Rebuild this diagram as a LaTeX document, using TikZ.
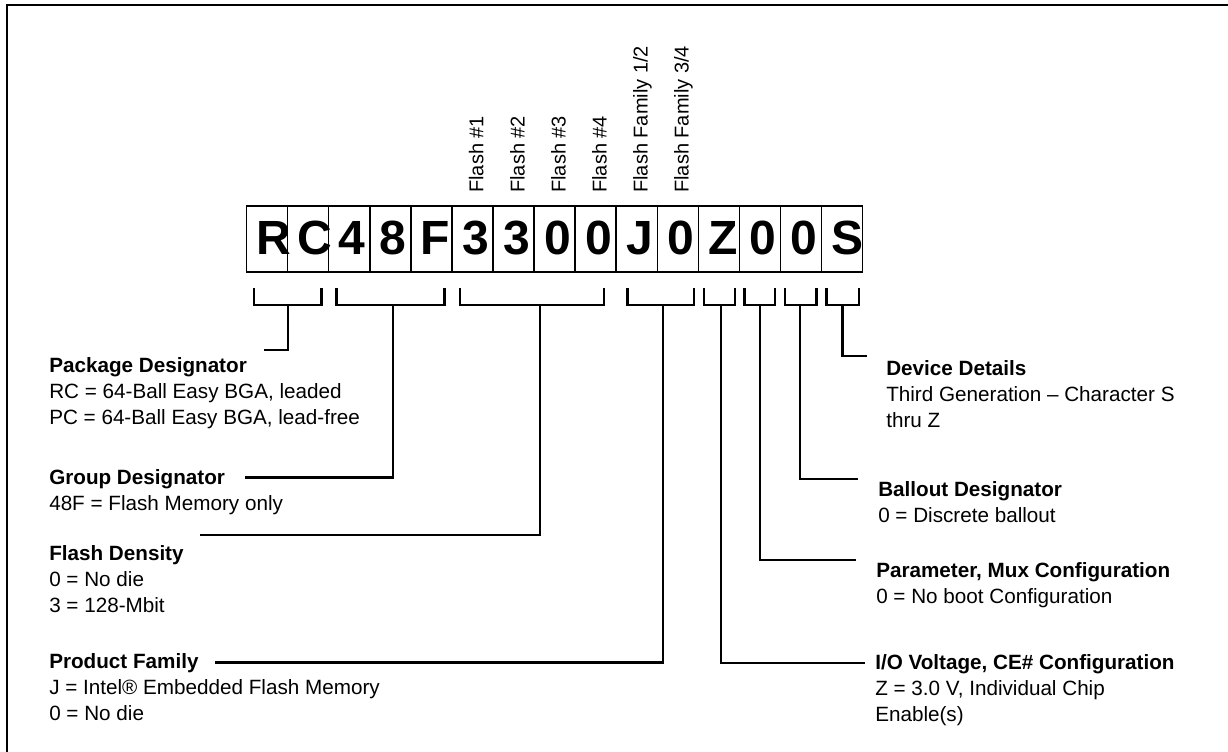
\documentclass[tikz,border=0pt]{standalone}
\usepackage{fontspec}
\setmainfont{Liberation Sans}
\begin{document}
\begin{tikzpicture}[x=0.75pt,y=-0.75pt,
  cell/.style={draw, line width=1pt, minimum width=30.79pt, minimum height=49.5pt, inner sep=0pt, outer sep=0pt},
  big/.style={anchor=base west, inner sep=0pt, font=\fontsize{36}{36}\selectfont\bfseries},
  vlab/.style={rotate=90, anchor=base west, inner sep=0pt, font=\fontsize{15}{18}\selectfont},
  head/.style={anchor=base west, inner sep=0pt, font=\fontsize{15.5}{18}\selectfont\bfseries},
  body/.style={anchor=base west, inner sep=0pt, font=\fontsize{15.5}{18}\selectfont},
  conn/.style={line width=2pt, line join=miter},
  frame/.style={line width=1.5pt}]
\useasboundingbox (0,0) rectangle (1228,751);
\draw[frame] (7,770) -- (7,5) -- (1240,5);
% cells and letters
\foreach \ch [count=\i from 0] in {R,C,4,8,F,3,3,0,0,J,0,Z,0,0,S}{
  \node[cell] (c\i) at ({246.7+41.05*(\i+0.5)},239) {};
  \node[big] (l\i) at ({246.7+41.05*\i+9.8},254) {\ch};
}
% vertical labels
\node[vlab] (v5) at ({246.7+41.05*5.5+11},193) {Flash \#1};
\node[vlab] (v6) at ({246.7+41.05*6.5+11},193) {Flash \#2};
\node[vlab] (v7) at ({246.7+41.05*7.5+11},193) {Flash \#3};
\node[vlab] (v8) at ({246.7+41.05*8.5+11},193) {Flash \#4};
\node[vlab] (v9) at ({246.7+41.05*9.5+11},193) {Flash Family 1/2};
\node[vlab] (v10) at ({246.7+41.05*10.5+11},193) {Flash Family 3/4};
% left texts
\node[head] (pkh) at (49,372) {Package Designator};
\node[body] (pk1) at (49,398) {RC = 64-Ball Easy BGA, leaded};
\node[body] (pk2) at (49,424) {PC = 64-Ball Easy BGA, lead-free};
\node[head] (grh) at (49,484) {Group Designator};
\node[body] (gr1) at (49,510) {48F = Flash Memory only};
\node[head] (fdh) at (49,560) {Flash Density};
\node[body] (fd1) at (49,586) {0 = No die};
\node[body] (fd2) at (49,612) {3 = 128-Mbit};
\node[head] (pfh) at (49,668) {Product Family};
\node[body] (pf1) at (49,694) {J = Intel® Embedded Flash Memory};
\node[body] (pf2) at (49,720) {0 = No die};
% right texts
\node[head] (ddh) at (886,375) {Device Details};
\node[body] (dd1) at (886,401) {Third Generation – Character S};
\node[body] (dd2) at (886,427) {thru Z};
\node[head] (bdh) at (878,496) {Ballout Designator};
\node[body] (bd1) at (878,522) {0 = Discrete ballout};
\node[head] (pmh) at (876,577) {Parameter, Mux Configuration};
\node[body] (pm1) at (876,603) {0 = No boot Configuration};
\node[head] (ioh) at (875,669) {I/O Voltage, CE\# Configuration};
\node[body] (io1) at (875,695) {Z = 3.0 V, Individual Chip};
\node[body] (io2) at (875,721) {Enable(s)};
% connector end points
\coordinate (ePk) at (264,350);
\coordinate (eGr) at (245,477.7);
\coordinate (eFd) at (200,535);
\coordinate (ePf) at (215,662.7);
\coordinate (eDd) at (867,356);
\coordinate (eBd) at (858,479);
\coordinate (ePm) at (856,560);
\coordinate (eIo) at (865,663);
% brackets
\draw[conn] (254,288) -- (254,305) -- (321.7,305) -- (321.7,288);
\draw[conn] (288,305) |- (ePk);
\draw[conn] (336.7,288) -- (336.7,305) -- (444.7,305) -- (444.7,288);
\draw[conn] (393,305) |- (eGr);
\draw[conn] (460,288) -- (460,305) -- (604,305) -- (604,288);
\draw[conn] (540,305) |- (eFd);
\draw[conn] (627.7,288) -- (627.7,305) -- (694,305) -- (694,288);
\draw[conn] (663,305) |- (ePf);
\draw[conn] (704,288) -- (704,305) -- (735,305) -- (735,288);
\draw[conn] (721,305) |- (eIo);
\draw[conn] (744.3,288) -- (744.3,305) -- (775,305) -- (775,288);
\draw[conn] (760,305) |- (ePm);
\draw[conn] (785,288) -- (785,305) -- (816.7,305) -- (816.7,288);
\draw[conn] (800,305) |- (eBd);
\draw[conn] (826.7,288) -- (826.7,305) -- (859,305) -- (859,288);
\draw[conn] (842.7,305) |- (eDd);
\end{tikzpicture}
\end{document}
